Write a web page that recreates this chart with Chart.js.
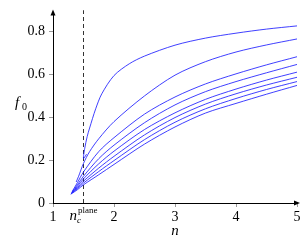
<!DOCTYPE html>
<html>
<head>
<meta charset="utf-8">
<script src="https://cdn.jsdelivr.net/npm/chart.js@4/dist/chart.umd.min.js"></script>
<style>
    html, body {margin: 0; padding: 0; background: #fff;}
</style>
</head>
<body>
<canvas id="chart" width="306" height="240"></canvas>
<script>
// ---------- Data ----------
const xTicks = [1, 2, 3, 4, 5]
const yTicks = [0, 0.2, 0.4, 0.6, 0.8]
const nCritical = 1.5

// [n, f0] pairs, top curve first
const curve1 = [[1.55, 0.228], [1.5, 0.208], [1.52, 0.255], [1.56, 0.31], [1.6, 0.35], [1.7, 0.44], [1.8, 0.51], [2.0, 0.595], [2.25, 0.65], [2.5, 0.686], [3, 0.737], [3.5, 0.77], [4, 0.793], [4.5, 0.812], [5, 0.827]]
const curve2 = [[1.38, 0.098], [1.42, 0.125], [1.5, 0.185], [1.6, 0.24], [1.75, 0.30], [2.0, 0.38], [2.5, 0.5], [3.0, 0.597], [3.5, 0.66], [4.0, 0.705], [4.5, 0.738], [5.0, 0.766]]
const curve3 = [[1.315, 0.054], [1.4, 0.095], [1.5, 0.145], [1.75, 0.24], [2.0, 0.305], [2.5, 0.415], [3.0, 0.495], [3.5, 0.556], [4.0, 0.603], [4.5, 0.645], [5.0, 0.683]]
const curve4 = [[1.31, 0.05], [1.4, 0.085], [1.5, 0.125], [1.75, 0.207], [2.0, 0.27], [2.5, 0.375], [3.0, 0.458], [3.5, 0.52], [4.0, 0.567], [4.5, 0.608], [5.0, 0.647]]
const curve5 = [[1.305, 0.047], [1.4, 0.078], [1.5, 0.113], [1.75, 0.183], [2.0, 0.242], [2.5, 0.343], [3.0, 0.421], [3.5, 0.484], [4.0, 0.532], [4.5, 0.574], [5.0, 0.611]]
const curve6 = [[1.30, 0.045], [1.4, 0.072], [1.5, 0.102], [1.75, 0.163], [2.0, 0.218], [2.5, 0.318], [3.0, 0.399], [3.5, 0.462], [4.0, 0.51], [4.5, 0.551], [5.0, 0.587]]
const curve7 = [[1.295, 0.043], [1.4, 0.067], [1.5, 0.093], [1.75, 0.147], [2.0, 0.198], [2.5, 0.296], [3.0, 0.377], [3.5, 0.44], [4.0, 0.488], [4.5, 0.53], [5.0, 0.567]]
const curve8 = [[1.29, 0.041], [1.4, 0.062], [1.5, 0.085], [1.75, 0.132], [2.0, 0.18], [2.5, 0.275], [3.0, 0.355], [3.5, 0.42], [4.0, 0.465], [4.5, 0.508], [5.0, 0.549]]

const curves = [curve1, curve2, curve3, curve4, curve5, curve6, curve7, curve8]

const Chart = window.Chart
const serif = '"Liberation Serif", "DejaVu Serif", serif'

// arrows, axis titles and the n_c^plane label
const decorations = {
    id: 'decorations',
    afterDraw(chart) {
        const {ctx, chartArea: a, scales} = chart
        ctx.save()
        ctx.fillStyle = '#000'
        // arrow heads
        ctx.beginPath()
        ctx.moveTo(a.left, a.top - 3)
        ctx.lineTo(a.left - 2.5, a.top + 3)
        ctx.lineTo(a.left + 2.5, a.top + 3)
        ctx.closePath()
        ctx.fill()
        ctx.beginPath()
        ctx.moveTo(a.right + 3, a.bottom)
        ctx.lineTo(a.right - 3, a.bottom - 2.5)
        ctx.lineTo(a.right - 3, a.bottom + 2.5)
        ctx.closePath()
        ctx.fill()

        ctx.textBaseline = 'alphabetic'
        // y title f_0
        ctx.font = 'italic 15px ' + serif
        ctx.fillText('f', 15, 107)
        ctx.font = '10px ' + serif
        ctx.fillText('0', 22, 110)

        // x title n
        ctx.font = 'italic 15px ' + serif
        ctx.textAlign = 'center'
        ctx.fillText('n', scales.x.getPixelForValue(3), 235)

        // n_c^plane under the dashed line
        const cx = scales.x.getPixelForValue(nCritical)
        ctx.textAlign = 'left'
        ctx.font = 'italic 15px ' + serif
        const wn = ctx.measureText('n').width
        ctx.font = '9px ' + serif
        const wp = ctx.measureText('plane').width
        const x0 = cx - (wn + wp + 1) / 2
        ctx.font = 'italic 15px ' + serif
        ctx.fillText('n', x0, 220)
        ctx.font = 'italic 9px ' + serif
        ctx.fillText('c', x0 + wn, 223)
        ctx.font = '9px ' + serif
        ctx.fillText('plane', x0 + wn + 1, 213)
        ctx.restore()
    }
}

const datasets = curves.map((c) => ({
    data: c.map((p) => ({x: p[0], y: p[1]})),
    showLine: true,
    borderColor: 'rgba(30, 30, 255, 0.85)',
    borderWidth: 1,
    pointRadius: 0,
    tension: 0.3,
    fill: false
}))

datasets.push({
    data: [{x: nCritical, y: 0}, {x: nCritical, y: 0.9}],
    showLine: true,
    clip: false,
    borderColor: '#333',
    borderWidth: 1,
    borderDash: [4, 3],
    pointRadius: 0
})

new Chart(document.getElementById('chart'), {
    type: 'scatter',
    data: {datasets: datasets},
    plugins: [decorations],
    options: {
        responsive: false,
        animation: false,
        layout: {padding: {top: 3, right: 9, left: 0, bottom: 0}},
        plugins: {legend: {display: false}, tooltip: {enabled: false}},
        scales: {
            x: {
                type: 'linear', min: 1, max: 5,
                afterBuildTicks: (s) => { s.ticks = xTicks.map((v) => ({value: v})) },
                afterFit: (s) => { s.height = 37 },
                ticks: {color: '#000', font: {family: serif, size: 14}, padding: 2, maxRotation: 0, autoSkip: false},
                grid: {drawOnChartArea: false, tickLength: 4, color: '#999'},
                border: {color: '#000', width: 1}
            },
            y: {
                min: 0, max: 0.89,
                afterBuildTicks: (s) => { s.ticks = yTicks.map((v) => ({value: v})) },
                afterFit: (s) => { s.width = 53 },
                ticks: {color: '#000', font: {family: serif, size: 14}, padding: 4, callback: (v) => String(v)},
                grid: {drawOnChartArea: false, tickLength: 4, color: '#999'},
                border: {color: '#000', width: 1}
            }
        }
    }
})
</script>
</body>
</html>
